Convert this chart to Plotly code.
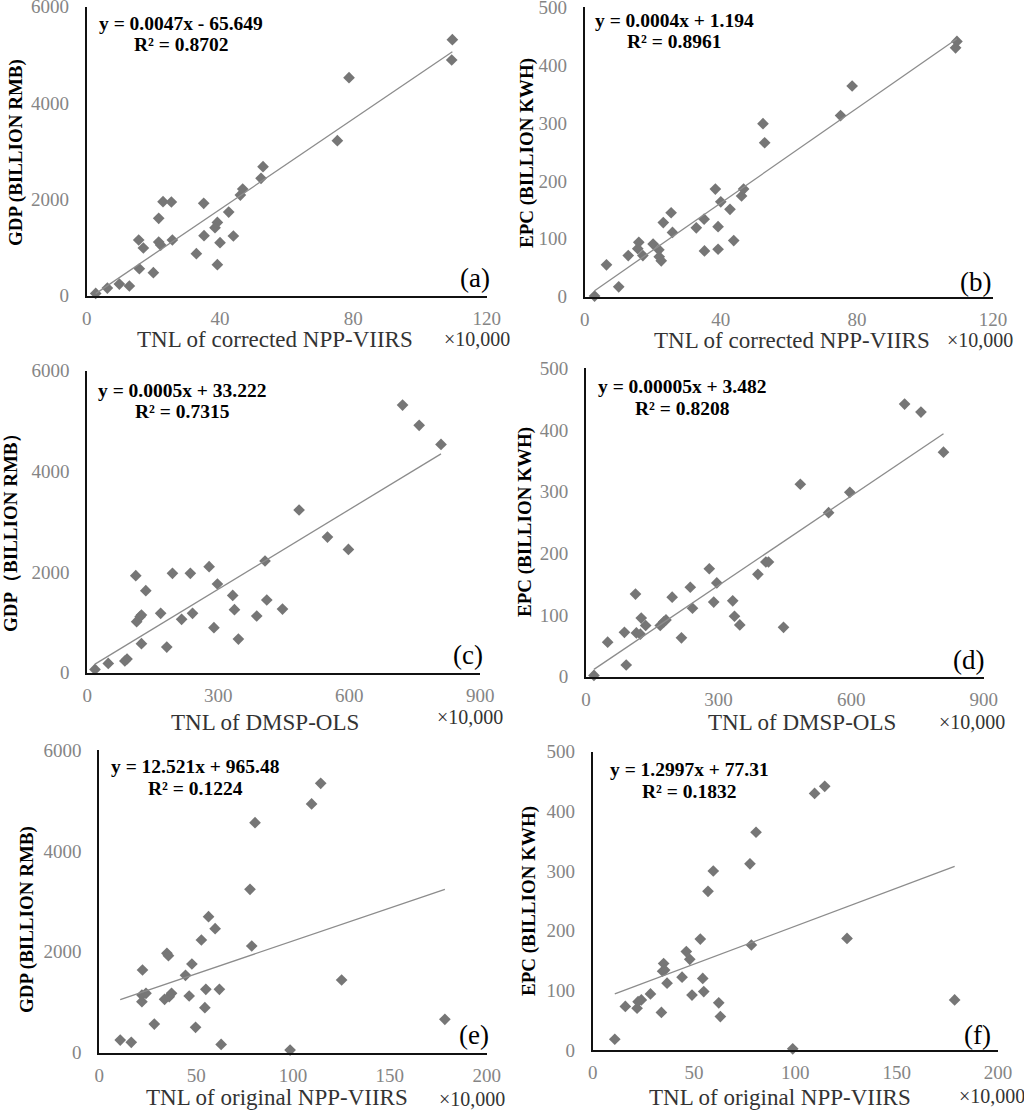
import numpy as np
import plotly.graph_objects as go
from plotly.subplots import make_subplots

W, H = 1024, 1111
FONT = "Liberation Serif"

# (a) corrected NPP-VIIRS TNL vs GDP
tnl_a = [2.7, 6.2, 9.8, 12.8, 15.8, 20.0, 15.6, 17.0, 21.6, 21.6, 22.2, 22.9, 25.4, 25.7,
         32.9, 35.1, 35.2, 38.5, 39.2, 40.0, 39.2, 42.6, 44.0, 46.1, 46.8, 52.3, 52.9,
         75.2, 78.7, 109.5, 109.7]
gdp_a = [48, 159, 242, 201, 560, 477, 1156, 990, 1606, 1114, 1052, 1952, 1945, 1156,
         872, 1917, 1246, 1412, 1522, 1100, 644, 1737, 1239, 2090, 2215, 2436, 2678,
         3218, 4526, 4893, 5315]

# (b) corrected NPP-VIIRS TNL vs EPC
tnl_b = [2.9, 6.4, 10.0, 12.8, 15.9, 15.6, 17.1, 20.1, 21.8, 21.9, 22.5, 23.1, 25.4, 25.8,
         32.8, 35.1, 35.2, 38.4, 39.2, 39.2, 40.0, 42.7, 43.8, 46.1, 46.7, 52.4, 52.9,
         75.2, 78.6, 109.0, 109.4]
epc_b = [1, 55, 17, 71, 94, 83, 71, 91, 81, 69, 62, 128, 145, 111,
         119, 134, 79, 186, 121, 82, 164, 151, 97, 174, 186, 299, 266,
         313, 364, 430, 441]

# (c) DMSP-OLS TNL vs GDP
tnl_c = [17.6, 48, 86, 91, 111, 113, 121, 124, 124, 134, 168, 182, 195, 216, 236, 241,
         279, 290, 298, 333, 337, 346, 388, 407, 411, 447, 485, 550, 598, 722, 760, 810]
gdp_c = [66, 185, 232, 272, 1927, 1013, 1113, 1146, 576, 1629, 1179, 510, 1974, 1060, 1974, 1179,
         2106, 894, 1762, 1536, 1252, 669, 1126, 2219, 1444, 1265, 3232, 2695, 2450, 5318, 4914, 4536]

# (d) DMSP-OLS TNL vs EPC
tnl_d = [18, 49, 87, 91, 112, 114, 123, 125, 135, 168, 176, 181, 195, 216, 236, 241,
         279, 289, 296, 332, 336, 348, 389, 407, 413, 447, 485, 549, 597, 721, 758, 809]
epc_d = [2, 56, 72, 19, 134, 71, 69, 95, 83, 83, 89, 92, 129, 63, 145, 111,
         175, 121, 152, 123, 98, 84, 166, 186, 186, 80, 312, 266, 299, 442, 429, 364]

# (e) original NPP-VIIRS TNL vs GDP
tnl_e = [10.8, 16.5, 22.3, 22.0, 22.0, 24.1, 28.4, 33.7, 34.9, 35.7, 36.1, 37.3, 44.5, 46.4,
         47.8, 49.7, 52.7, 55.0, 54.5, 56.4, 59.8, 62.0, 62.9, 77.8, 78.7, 80.4, 98.5,
         109.6, 114.3, 125.1, 178.4]
gdp_e = [251, 205, 1639, 1011, 1143, 1176, 568, 1057, 1970, 1923, 1110, 1176, 1533, 1124,
         1758, 502, 2234, 1256, 892, 2697, 2459, 1256, 165, 3239, 2115, 4560, 53,
         4931, 5340, 1441, 661]

# (f) original NPP-VIIRS TNL vs EPC
tnl_f = [10.9, 16.1, 21.9, 22.4, 24.0, 28.5, 33.9, 34.5, 35.0, 35.5, 36.7, 44.1, 46.2, 47.9,
         49.0, 53.1, 54.3, 54.8, 56.9, 59.5, 62.2, 63.0, 77.6, 78.3, 80.6, 98.7, 109.5,
         114.5, 125.5, 178.6]
epc_f = [18, 73, 70, 81, 84, 94, 63, 132, 145, 134, 112, 122, 165, 152,
         92, 186, 120, 98, 266, 300, 79, 56, 312, 176, 365, 2, 430,
         442, 187, 84]

equations = ["y = 0.0047x - 65.649", "y = 0.0004x + 1.194", "y = 0.0005x + 33.222",
             "y = 0.00005x + 3.482", "y = 12.521x + 965.48", "y = 1.2997x + 77.31"]
r_squared = ["R² = 0.8702", "R² = 0.8961", "R² = 0.7315",
             "R² = 0.8208", "R² = 0.1224", "R² = 0.1832"]
panel_tags = ["(a)", "(b)", "(c)", "(d)", "(e)", "(f)"]
x_titles = ["TNL of corrected NPP-VIIRS", "TNL of corrected NPP-VIIRS",
            "TNL of DMSP-OLS", "TNL of DMSP-OLS",
            "TNL of original NPP-VIIRS", "TNL of original NPP-VIIRS"]
y_titles = ["GDP (BILLION RMB)", "EPC (BILLION KWH)", "GDP（BILLION RMB）",
            "EPC (BILLION KWH)", "GDP (BILLION RMB)", "EPC (BILLION KWH)"]
x_ticks = [[0, 40, 80, 120], [0, 40, 80, 120], [0, 300, 600, 900],
           [0, 300, 600, 900], [0, 50, 100, 150, 200], [0, 50, 100, 150, 200]]
y_ticks = [[0, 2000, 4000, 6000], [0, 100, 200, 300, 400, 500]] * 3

series = [(tnl_a, gdp_a), (tnl_b, epc_b), (tnl_c, gdp_c),
          (tnl_d, epc_d), (tnl_e, gdp_e), (tnl_f, epc_f)]

# plot areas in pixels: x0, x1, y_top, y_bottom
boxes = [(86.7, 486.7, 6.7, 295.7), (584.7, 993.0, 7.3, 296.7),
         (87.3, 480.3, 370.7, 672.7), (586.0, 983.7, 368.3, 676.7),
         (99.3, 486.7, 750.0, 1052.7), (592.7, 998.0, 751.7, 1050.0)]
# text positions in pixels
eq_pos = [(181, 23, 45), (674, 21, 41), (182, 390, 412),
          (682, 387, 408), (195, 766, 788), (689, 769, 791)]
tag_pos = [(475, 278), (975, 282), (468, 655), (968, 660), (474, 1035), (977, 1035)]
ytitle_pos = [(16, 153), (527, 153), (10, 528), (525, 522), (27, 920), (529, 901)]
xtitle_pos = [(275, 339), (792, 340), (265, 722), (802, 722), (277, 1097), (780, 1097)]
unit_pos = [(477, 339), (980, 340), (470, 717), (972, 722), (472, 1099), (992, 1096)]


def px(x):
    return x / W


def py(y):
    return 1 - y / H


def note(x, y, text, size, color="#000000", angle=0):
    fig.add_annotation(x=px(x), y=py(y), xref="paper", yref="paper", showarrow=False,
                       xanchor="center", yanchor="middle", textangle=angle, text=text,
                       font=dict(family=FONT, size=size, color=color))


fig = make_subplots(rows=3, cols=2)

for i, (xs, ys) in enumerate(series):
    row, col = i // 2 + 1, i % 2 + 1
    fig.add_trace(go.Scatter(x=xs, y=ys, mode="markers", cliponaxis=False,
                             marker=dict(symbol="diamond", size=9, color="#767676")),
                  row=row, col=col)
    k, b = np.polyfit(xs, ys, 1)
    lx = np.array([min(xs), max(xs)])
    fig.add_trace(go.Scatter(x=lx, y=k * lx + b, mode="lines",
                             line=dict(color="#8c8c8c", width=1.3)),
                  row=row, col=col)

    x0, x1, yt, yb = boxes[i]
    suffix = "" if i == 0 else str(i + 1)
    axis_style = dict(showline=True, linecolor="#111111", linewidth=2, showgrid=False,
                      zeroline=False, ticks="", automargin=False, ticklabeloverflow="allow",
                      tickfont=dict(family=FONT, size=19, color="#858585"))
    fig.layout["xaxis" + suffix].update(domain=[px(x0), px(x1)], range=[0, x_ticks[i][-1]],
                                        tickvals=x_ticks[i], ticklabelstandoff=4, **axis_style)
    fig.layout["yaxis" + suffix].update(domain=[py(yb), py(yt)], range=[0, y_ticks[i][-1]],
                                        tickvals=y_ticks[i], ticklabelstandoff=12, **axis_style)

    ex, ey1, ey2 = eq_pos[i]
    note(ex, ey1, "<b>" + equations[i] + "</b>", 19.5)
    note(ex, ey2, "<b>" + r_squared[i] + "</b>", 19.5)
    note(*tag_pos[i], panel_tags[i], 27)
    note(*ytitle_pos[i], "<b>" + y_titles[i] + "</b>", 19, angle=-90)
    note(*xtitle_pos[i], x_titles[i], 23, color="#333333")
    note(*unit_pos[i], "×10,000", 20, color="#333333")

fig.update_layout(width=W, height=H, margin=dict(l=0, r=0, t=0, b=0),
                  paper_bgcolor="white", plot_bgcolor="white", showlegend=False)

# drop the page's default body margin so the figure sits at the window's corner
fig.write_html("out.html", config={"displayModeBar": False},
               post_script="document.body.style.margin = '0px';")
